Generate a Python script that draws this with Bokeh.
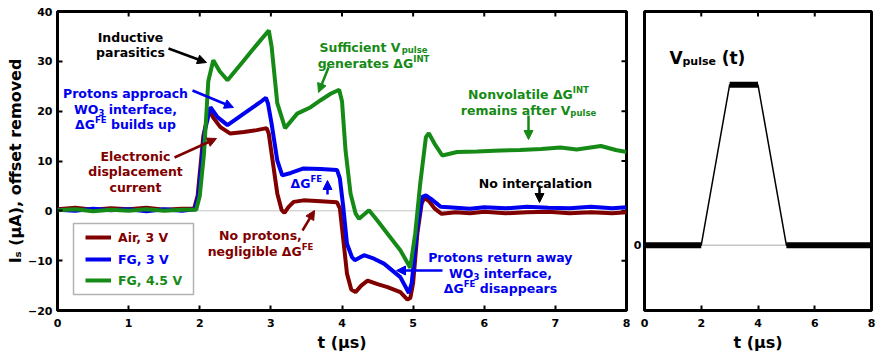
from bokeh.plotting import figure
from bokeh.models import (Range1d, FixedTicker, Label, Arrow, NormalHead,
                          Span, Legend, LegendItem, BoxAnnotation)
from bokeh.layouts import row
from bokeh.embed import file_html
from bokeh.resources import INLINE

# ---- measured source current traces (t in µs, I in µA, offset removed) ----
t_air = [0.00, 0.25, 0.50, 0.75, 1.00, 1.25, 1.50, 1.75, 1.92, 1.97, 2.05, 2.13, 2.20, 2.29,
         2.43, 2.62, 2.80, 2.94, 2.97, 3.02, 3.09, 3.15, 3.19, 3.25, 3.32, 3.46, 3.70, 3.93,
         3.97, 4.02, 4.07, 4.13, 4.19, 4.27, 4.36, 4.50, 4.64, 4.82, 4.92, 4.96, 5.00, 5.06,
         5.12, 5.16, 5.22, 5.30, 5.40, 5.60, 5.80, 6.00, 6.30, 6.60, 6.90, 7.20, 7.50, 7.80, 8.00]
i_air = [0.3, 0.6, 0.2, 0.5, 0.3, 0.6, 0.2, 0.4, 0.4, 3.0, 15.0, 20.2, 18.5, 16.8,
         15.5, 15.8, 16.2, 16.6, 15.5, 10.5, 3.5, 0.2, -0.4, 0.8, 1.8, 2.1, 1.9, 1.7,
         0.5, -6.0, -12.6, -15.8, -16.3, -15.0, -14.0, -14.7, -15.3, -16.3, -17.8, -17.5, -14.5, -4.5,
         1.5, 2.6, 2.0, 0.5, -0.6, -0.3, -0.5, -0.2, -0.5, -0.3, -0.2, -0.5, -0.3, -0.5, -0.3]

t_fg3 = [0.00, 0.25, 0.50, 0.75, 1.00, 1.25, 1.50, 1.75, 1.93, 1.98, 2.07, 2.15, 2.25, 2.39,
         2.55, 2.70, 2.85, 2.93, 2.96, 3.01, 3.09, 3.16, 3.28, 3.46, 3.70, 3.93, 3.97, 4.02,
         4.07, 4.14, 4.18, 4.31, 4.45, 4.59, 4.82, 4.94, 4.98, 5.06, 5.13, 5.18, 5.25, 5.39,
         5.60, 5.80, 6.00, 6.30, 6.60, 6.90, 7.20, 7.50, 7.80, 8.00]
i_fg3 = [0.2, 0.0, 0.4, 0.1, 0.3, -0.1, 0.3, 0.0, 0.3, 3.0, 16.0, 20.8, 18.8, 17.2,
         18.8, 20.3, 21.8, 22.7, 21.5, 17.5, 10.1, 7.1, 7.6, 8.5, 8.4, 8.2, 6.5, 0.5,
         -6.6, -9.3, -9.9, -8.9, -9.6, -10.6, -13.3, -16.5, -14.5, -3.2, 2.8, 3.1, 2.4, 0.8,
         0.6, 0.4, 0.7, 0.5, 0.8, 0.6, 0.5, 0.8, 0.5, 0.7]

t_fg45 = [0.00, 0.25, 0.50, 0.75, 1.00, 1.25, 1.50, 1.75, 1.95, 2.00, 2.06, 2.12, 2.19, 2.28,
          2.39, 2.60, 2.80, 2.97, 3.01, 3.09, 3.20, 3.37, 3.56, 3.70, 3.84, 3.96, 4.00, 4.05,
          4.12, 4.19, 4.24, 4.38, 4.50, 4.64, 4.82, 4.96, 5.03, 5.10, 5.18, 5.22, 5.30, 5.41,
          5.62, 5.90, 6.23, 6.50, 6.80, 7.07, 7.30, 7.64, 7.85, 8.00]
i_fg45 = [0.1, 0.3, -0.1, 0.2, 0.0, 0.3, 0.0, 0.2, 0.2, 3.0, 11.5, 26.0, 30.2, 28.0,
          26.2, 29.8, 33.3, 36.2, 33.0, 21.6, 16.6, 19.5, 20.8, 22.2, 23.5, 24.3, 22.0, 12.1,
          3.5, -0.5, -1.6, 0.1, -2.0, -4.6, -7.9, -11.4, -4.5, 5.5, 14.8, 15.6, 13.5, 11.1,
          11.8, 11.9, 12.1, 12.2, 12.4, 12.7, 12.3, 13.0, 12.2, 11.8]

series_names = ["Air, 3 V", "FG, 3 V", "FG, 4.5 V"]

# ---- applied gate pulse ----
t_pulse = [0, 2, 3, 4, 5, 8]
v_pulse = [0, 0, 4.5, 4.5, 0, 0]

x_ticks = [0, 1, 2, 3, 4, 5, 6, 7, 8]
y_ticks = [-20, -10, 0, 10, 20, 30, 40]
pulse_x_ticks = [0, 2, 4, 6, 8]

RED, BLUE, GREEN = "#800000", "#0000f0", "#168a16"
FONT = "DejaVu Sans"
TICK_LEN = 5  # px, ticks point into the frame

# approximate advance widths (em) of DejaVu Sans Bold, used to chain text pieces
ADV = {" ": .348, "(": .457, ")": .457, ",": .381, ".": .381, "Δ": .774, "μ": .721,
       "A": .774, "C": .734, "D": .830, "E": .683, "F": .683, "G": .821, "I": .372,
       "N": .837, "O": .850, "P": .733, "S": .720, "T": .682, "V": .774, "W": 1.103,
       "a": .675, "b": .716, "c": .593, "d": .716, "e": .678, "f": .435, "g": .716,
       "h": .712, "i": .343, "l": .343, "m": 1.042, "n": .712, "o": .687, "p": .716,
       "r": .493, "s": .595, "t": .478, "u": .712, "v": .652, "w": .924, "y": .652,
       "0": .696, "3": .696}


def text_width(s, size):
    return sum(ADV.get(ch, 0.65) for ch in s) * size


def style_frame(fig):
    fig.outline_line_color = "black"
    fig.outline_line_width = 3
    fig.background_fill_color = "white"
    fig.border_fill_color = "white"
    fig.xgrid.visible = False
    fig.ygrid.visible = False


def style_axis(ax):
    ax.axis_line_color = None
    ax.major_tick_in = TICK_LEN
    ax.major_tick_out = 0
    ax.major_tick_line_width = 2
    ax.major_tick_line_color = "black"
    ax.minor_tick_line_color = None
    ax.major_label_text_font = FONT
    ax.major_label_text_font_style = "bold"
    ax.major_label_text_font_size = "11px"
    ax.major_label_text_color = "black"


def axis_title(ax, text, standoff):
    ax.axis_label = text
    ax.axis_label_text_font = FONT
    ax.axis_label_text_font_style = "bold"
    ax.axis_label_text_font_size = "16px"
    ax.axis_label_text_color = "black"
    ax.axis_label_standoff = standoff


def mirror_ticks(fig, xt, yt, xr, yr, fw, fh):
    """Inward ticks along the top and right edges of the frame."""
    dy = TICK_LEN / fh * (yr[1] - yr[0])
    dx = TICK_LEN / fw * (xr[1] - xr[0])
    if xt:
        fig.segment(x0=xt, x1=xt, y0=[yr[1]] * len(xt), y1=[yr[1] - dy] * len(xt),
                    line_color="black", line_width=2)
    if yt:
        fig.segment(x0=[xr[1]] * len(yt), x1=[xr[1] - dx] * len(yt), y0=yt, y1=yt,
                    line_color="black", line_width=2)


def rich(fig, conv, cx, cy, parts, color, size=12.5, small=8.5, align="center"):
    """Draw one line of text made of normal / sub / sup pieces."""
    sizes = [size if k == "n" else small for _, k in parts]
    total = sum(text_width(t, s) for (t, _), s in zip(parts, sizes))
    x = cx - total / 2 if align == "center" else cx
    base = cy + 0.36 * size
    for (t, k), s in zip(parts, sizes):
        stripped = t.lstrip(" ")
        x += text_width(t[:len(t) - len(stripped)], s)
        off = {"n": 0, "sub": 3, "sup": -4.5}[k]
        X, Y = conv(x, base + off)
        fig.add_layout(Label(x=X, y=Y, text=stripped, text_font=FONT,
                             text_font_style="bold", text_font_size=f"{s}px",
                             text_color=color, text_align="left",
                             text_baseline="alphabetic"))
        x += text_width(stripped, s)


def arrow(fig, conv, p0, p1, color):
    xs, ys = conv(*p0)
    xe, ye = conv(*p1)
    fig.add_layout(Arrow(x_start=xs, y_start=ys, x_end=xe, y_end=ye,
                         line_color=color, line_width=2.5,
                         end=NormalHead(size=9, fill_color=color, line_color=color,
                                        line_width=1)))


# ---- main panel ----
L_W, L_H = 630, 356
L_LEFT, L_TOP, L_RIGHT, L_BOTTOM = 57, 11, 4, 46
X0, X1, Y0, Y1 = 0, 8, -20, 40
FW = L_W - L_LEFT - L_RIGHT
FH = L_H - L_TOP - L_BOTTOM


def to_main(px, py):
    return (X0 + (px - L_LEFT) / FW * (X1 - X0), Y1 - (py - L_TOP) / FH * (Y1 - Y0))


p = figure(width=L_W, height=L_H, output_backend="svg", toolbar_location=None,
           x_range=Range1d(X0, X1), y_range=Range1d(Y0, Y1),
           min_border_left=L_LEFT, min_border_right=L_RIGHT,
           min_border_top=L_TOP, min_border_bottom=L_BOTTOM)
style_frame(p)
p.xaxis.ticker = FixedTicker(ticks=x_ticks)
p.yaxis.ticker = FixedTicker(ticks=y_ticks)
style_axis(p.xaxis[0])
style_axis(p.yaxis[0])
p.xaxis.major_label_standoff = 8
p.yaxis.major_label_standoff = 5
axis_title(p.xaxis[0], "t (μs)", 3)
axis_title(p.yaxis[0], "Iₛ (μA), offset removed", 0)
mirror_ticks(p, x_ticks[1:-1], y_ticks[1:-1], (X0, X1), (Y0, Y1), FW, FH)

p.add_layout(Span(location=0, dimension="width", line_color="#888888",
                  line_width=1, line_dash="1 1", level="underlay"))

r_air = p.line(t_air, i_air, line_color=RED, line_width=4)
r_fg3 = p.line(t_fg3, i_fg3, line_color=BLUE, line_width=4)
r_fg45 = p.line(t_fg45, i_fg45, line_color=GREEN, line_width=4)

# legend box with one entry per trace, text coloured like its trace
bl, bt = to_main(73, 223)
br, bb = to_main(193, 294)
p.add_layout(BoxAnnotation(left=bl, right=br, top=bt, bottom=bb, fill_color="white",
                           fill_alpha=1, line_color="black", line_width=1.5))
for name, rend, col, vy in zip(series_names, [r_air, r_fg3, r_fg45],
                               [RED, BLUE, GREEN], [63, 41, 20]):
    lg = Legend(items=[LegendItem(label=name, renderers=[rend])], location=(28, vy),
                padding=0, margin=0, spacing=0, border_line_color=None,
                background_fill_alpha=0, glyph_width=26, glyph_height=20,
                label_height=20, label_standoff=7, label_text_font=FONT,
                label_text_font_style="bold", label_text_font_size="12.5px",
                label_text_color=col)
    p.add_layout(lg)

# annotations on the main panel
rich(p, to_main, 130, 32, [("Inductive", "n")], "black")
rich(p, to_main, 130, 47, [("parasitics", "n")], "black")
arrow(p, to_main, (168, 48), (206, 62), "black")

rich(p, to_main, 125, 88, [("Protons approach", "n")], BLUE)
rich(p, to_main, 125, 104, [("WO", "n"), ("3", "sub"), (" interface,", "n")], BLUE)
rich(p, to_main, 125, 119, [("ΔG", "n"), ("FE", "sup"), (" builds up", "n")], BLUE)
arrow(p, to_main, (192, 90), (233, 107), BLUE)

rich(p, to_main, 135, 151, [("Electronic", "n")], RED)
rich(p, to_main, 135, 166, [("displacement", "n")], RED)
rich(p, to_main, 135, 182, [("current", "n")], RED)
arrow(p, to_main, (174, 157), (216, 138), RED)

rich(p, to_main, 373, 42, [("Sufficient V", "n"), ("pulse", "sub")], GREEN)
rich(p, to_main, 373, 58, [("generates ΔG", "n"), ("INT", "sup")], GREEN)
arrow(p, to_main, (328, 67), (318, 92), GREEN)

rich(p, to_main, 528, 89, [("Nonvolatile ΔG", "n"), ("INT", "sup")], GREEN)
rich(p, to_main, 528, 105, [("remains after V", "n"), ("pulse", "sub")], GREEN)
arrow(p, to_main, (528, 115), (528, 139), GREEN)

rich(p, to_main, 535, 178, [("No intercalation", "n")], "black")
arrow(p, to_main, (539, 185), (539, 202), "black")

rich(p, to_main, 290, 178, [("ΔG", "n"), ("FE", "sup")], BLUE, align="left")
arrow(p, to_main, (327, 194), (327, 180), BLUE)

rich(p, to_main, 260, 230, [("No protons,", "n")], RED)
rich(p, to_main, 260, 246, [("negligible ΔG", "n"), ("FE", "sup")], RED)
arrow(p, to_main, (302, 230), (314, 210), RED)

rich(p, to_main, 500, 252, [("Protons return away", "n")], BLUE)
rich(p, to_main, 500, 268, [("WO", "n"), ("3", "sub"), (" interface,", "n")], BLUE)
rich(p, to_main, 500, 283, [("ΔG", "n"), ("FE", "sup"), (" disappears", "n")], BLUE)
arrow(p, to_main, (442, 270), (396, 270), BLUE)

# ---- pulse panel ----
R_W, R_H = 256, 356
R_LEFT, R_TOP, R_RIGHT, R_BOTTOM = 13, 10, 15, 44
V0, V1 = -1.833, 6.556
RFW = R_W - R_LEFT - R_RIGHT
RFH = R_H - R_TOP - R_BOTTOM


def to_pulse(px, py):
    return ((px - R_LEFT) / RFW * 8, V1 - (py - R_TOP) / RFH * (V1 - V0))


q = figure(width=R_W, height=R_H, output_backend="svg", toolbar_location=None,
           x_range=Range1d(0, 8), y_range=Range1d(V0, V1),
           min_border_left=R_LEFT, min_border_right=R_RIGHT,
           min_border_top=R_TOP, min_border_bottom=R_BOTTOM)
style_frame(q)
q.xaxis.ticker = FixedTicker(ticks=pulse_x_ticks)
q.yaxis.ticker = FixedTicker(ticks=[0])
style_axis(q.xaxis[0])
style_axis(q.yaxis[0])
q.yaxis.major_tick_in = 0
q.xaxis.major_label_standoff = 8
q.yaxis.major_label_standoff = 3
axis_title(q.xaxis[0], "t (μs)", 3)
mirror_ticks(q, pulse_x_ticks[1:-1], [], (0, 8), (V0, V1), RFW, RFH)

q.add_layout(Span(location=0, dimension="width", line_color="#aaaaaa",
                  line_width=1, level="underlay"))
q.line(t_pulse, v_pulse, line_color="black", line_width=1.5)
flat = [i for i in range(len(t_pulse) - 1) if v_pulse[i] == v_pulse[i + 1]]
q.segment(x0=[t_pulse[i] for i in flat], y0=[v_pulse[i] for i in flat],
          x1=[t_pulse[i + 1] for i in flat], y1=[v_pulse[i + 1] for i in flat],
          line_color="black", line_width=6)

rich(q, to_pulse, 38, 51, [("V", "n"), ("pulse", "sub"), (" (t)", "n")], "black",
     size=17, small=11, align="left")

layout = row(p, q)
open("out.html", "w").write(file_html(layout, INLINE))
